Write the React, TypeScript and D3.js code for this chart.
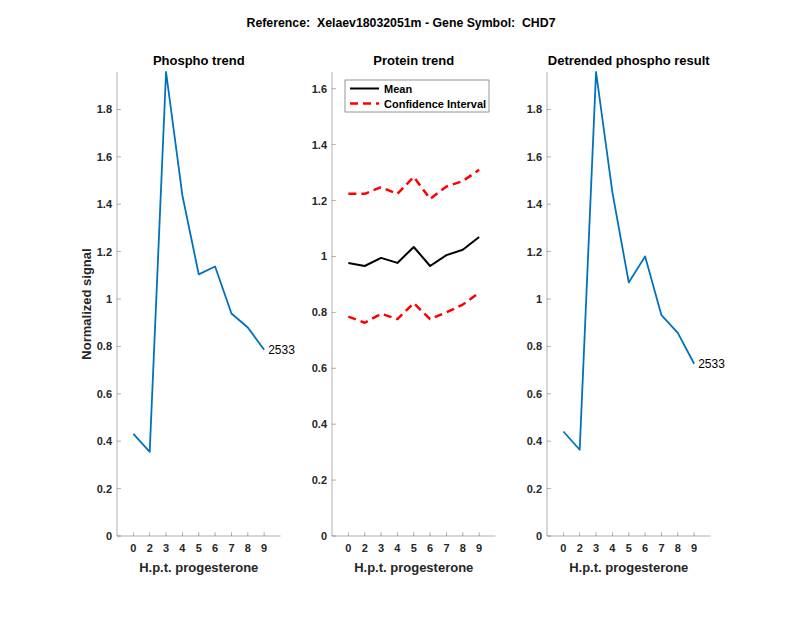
import React from "react";
import * as d3 from "d3";

const xLabels = ["0", "2", "3", "4", "5", "6", "7", "8", "9"];
const phospho = [0.431, 0.355, 1.958, 1.437, 1.104, 1.137, 0.939, 0.88, 0.786];
const proteinMean = [0.977, 0.966, 0.995, 0.977, 1.034, 0.966, 1.005, 1.024, 1.07];
const proteinUpper = [1.224, 1.224, 1.248, 1.224, 1.285, 1.206, 1.25, 1.27, 1.31];
const proteinLower = [0.785, 0.763, 0.795, 0.776, 0.833, 0.776, 0.8, 0.828, 0.87];
const detrended = [0.441, 0.364, 1.958, 1.45, 1.07, 1.18, 0.932, 0.857, 0.727];
const ticksA = [0, 0.2, 0.4, 0.6, 0.8, 1, 1.2, 1.4, 1.6, 1.8];
const ticksB = [0, 0.2, 0.4, 0.6, 0.8, 1, 1.2, 1.4, 1.6];
const pointLabel = "2533";

const W = 800;
const H = 618;
const top = 72;
const bottom = 536;
const pw = 163.5;
const lefts = [117, 332, 547];
const axisColor = "#262626";
const font = "'Liberation Sans', Arial, Helvetica, sans-serif";

function fmt(v: number) {
  return String(Math.round(v * 10) / 10);
}

type Series = { values: number[]; color: string; width: number; dash?: string };

function Panel({
  left,
  title,
  ymax,
  yTicks,
  series,
  label,
  yLabel,
  legend,
}: {
  left: number;
  title: string;
  ymax: number;
  yTicks: number[];
  series: Series[];
  label?: { values: number[]; text: string };
  yLabel?: string;
  legend?: boolean;
}) {
  const x = d3.scaleLinear().domain([0, 10]).range([left, left + pw]);
  const y = d3.scaleLinear().domain([0, ymax]).range([bottom, top]);
  const line = d3
    .line<number>()
    .x((_, i) => x(i + 1))
    .y((d) => y(d));
  return (
    <g>
      <text x={left + pw / 2} y={top - 7} textAnchor="middle" fontWeight="bold" fontSize={13} fill="#000">
        {title}
      </text>
      {series.map((s, i) => (
        <path
          key={i}
          d={line(s.values) || ""}
          fill="none"
          stroke={s.color}
          strokeWidth={s.width}
          strokeDasharray={s.dash}
          strokeLinejoin="round"
        />
      ))}
      {label && (
        <text
          x={x(label.values.length) + 4}
          y={y(label.values[label.values.length - 1]) + 4}
          fontSize={12}
          fill="#000"
        >
          {label.text}
        </text>
      )}
      <line x1={left} x2={left} y1={top} y2={bottom} stroke={axisColor} strokeWidth={0.6} opacity={0.6} />
      <line x1={left} x2={left + pw} y1={bottom} y2={bottom} stroke={axisColor} strokeWidth={0.6} opacity={0.6} />
      {yTicks.map((t) => (
        <g key={t}>
          <line x1={left} x2={left + 4} y1={y(t)} y2={y(t)} stroke={axisColor} strokeWidth={0.6} opacity={0.6} />
          <text x={left - 5} y={y(t) + 4} textAnchor="end" fontSize={11} fontWeight="bold" fill={axisColor}>
            {fmt(t)}
          </text>
        </g>
      ))}
      {xLabels.map((l, i) => (
        <g key={l}>
          <line x1={x(i + 1)} x2={x(i + 1)} y1={bottom} y2={bottom - 4} stroke={axisColor} strokeWidth={0.6} opacity={0.6} />
          <text x={x(i + 1)} y={bottom + 16} textAnchor="middle" fontSize={11} fontWeight="bold" fill={axisColor}>
            {l}
          </text>
        </g>
      ))}
      <text x={left + pw / 2} y={bottom + 36} textAnchor="middle" fontSize={13} fontWeight="bold" fill={axisColor}>
        H.p.t. progesterone
      </text>
      {yLabel && (
        <text
          transform={`translate(${left - 26},${(top + bottom) / 2}) rotate(-90)`}
          textAnchor="middle"
          fontSize={13}
          fontWeight="bold"
          fill={axisColor}
        >
          {yLabel}
        </text>
      )}
      {legend && (
        <g>
          <rect x={left + 13} y={80} width={144} height={32} fill="#fff" stroke={axisColor} strokeWidth={0.6} opacity={0.8} />
          <line x1={left + 18} x2={left + 47} y1={88.5} y2={88.5} stroke="#000" strokeWidth={2} />
          <text x={left + 52} y={92.5} fontSize={11} fontWeight="bold" fill="#000">
            Mean
          </text>
          <line x1={left + 18} x2={left + 47} y1={103.5} y2={103.5} stroke="#ff0000" strokeWidth={2.5} strokeDasharray="8 5" />
          <text x={left + 52} y={107.5} fontSize={11} fontWeight="bold" fill="#000">
            Confidence Interval
          </text>
        </g>
      )}
    </g>
  );
}

export default function App() {
  const blue = "#0072BD";
  return (
    <svg width={W} height={H} style={{ display: "block", position: "absolute", left: 0, top: 0, fontFamily: font }}>
      <rect width={W} height={H} fill="#fff" />
      <text x={W / 2 + 1} y={27} textAnchor="middle" fontSize={12.3} fontWeight="bold" fill="#000" style={{ whiteSpace: "pre" }}>
        {"Reference:  Xelaev18032051m - Gene Symbol:  CHD7"}
      </text>
      <Panel
        left={lefts[0]}
        title="Phospho trend"
        ymax={d3.max(phospho) as number}
        yTicks={ticksA}
        series={[{ values: phospho, color: blue, width: 1.8 }]}
        label={{ values: phospho, text: pointLabel }}
        yLabel="Normalized signal"
      />
      <Panel
        left={lefts[1]}
        title="Protein trend"
        ymax={1.66}
        yTicks={ticksB}
        series={[
          { values: proteinMean, color: "#000", width: 2 },
          { values: proteinUpper, color: "#ff0000", width: 2.5, dash: "8 5" },
          { values: proteinLower, color: "#ff0000", width: 2.5, dash: "8 5" },
        ]}
        legend
      />
      <Panel
        left={lefts[2]}
        title="Detrended phospho result"
        ymax={d3.max(detrended) as number}
        yTicks={ticksA}
        series={[{ values: detrended, color: blue, width: 1.8 }]}
        label={{ values: detrended, text: pointLabel }}
      />
    </svg>
  );
}
